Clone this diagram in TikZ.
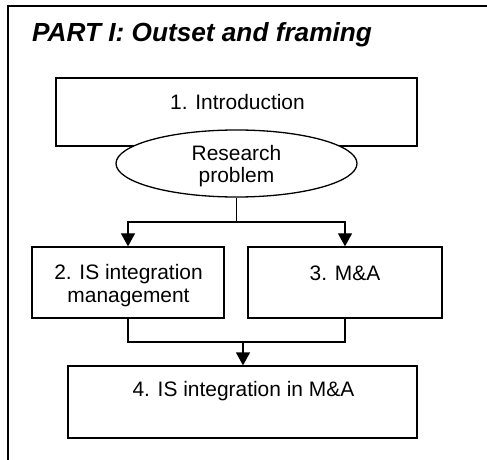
\documentclass[tikz,border=0pt]{standalone}
\usepackage{fontspec}
\setmainfont{Liberation Sans}
\usetikzlibrary{arrows.meta,shapes.geometric}
\begin{document}
\begin{tikzpicture}[x=1bp,y=-1bp,
  boxnode/.style={draw=black,line width=1.3bp,fill=white,rectangle,inner sep=0pt},
  txt/.style={font=\fontsize{21}{22.5}\selectfont,align=center,inner sep=0pt},
  conn/.style={line width=1.3bp,draw=black},
  arr/.style={conn,-{Triangle[width=14bp,length=13bp]}}]
\useasboundingbox (0,0) rectangle (487,460);
% outer frame (top and left)
\draw[line width=1.6bp] (8,460) -- (8,6) -- (490,6);
\node[anchor=base west,inner sep=0pt,font=\fontsize{26.3}{31}\selectfont\bfseries\itshape] (title) at (32,42) {PART I: Outset and framing};
% box 1
\node[boxnode,minimum width=361bp,minimum height=68bp] (box1) at (236.5,112) {};
\node[txt,anchor=base] (t1) at (237.5,110) {1. Introduction};
% ellipse
\node[ellipse,draw=black,line width=1.3bp,fill=white,minimum width=241bp,minimum height=67bp,inner sep=0pt] (ell) at (236.5,163.5) {};
\node[txt] (te) at (236.5,166) {Research\\problem};
% boxes 2 and 3
\node[boxnode,minimum width=192bp,minimum height=71bp] (box2) at (128,282.5) {};
\node[txt] (t2) at (128.5,285.5) {2. IS integration\\management};
\node[boxnode,minimum width=194bp,minimum height=71bp] (box3) at (345,282.5) {};
\node[txt,anchor=base] (t3) at (345,280) {3. M\&A};
% box 4
\node[boxnode,minimum width=349bp,minimum height=72bp] (box4) at (242.5,402) {};
\node[txt,anchor=base] (t4) at (243.4,396.7) {4. IS integration in M\&A};
% connectors
\coordinate (j1) at (236.5,222);
\draw[conn] (ell.south) -- (j1);
\draw[arr] (j1) -| (box2.north);
\draw[arr] (j1) -| (box3.north);
\coordinate (j2) at (243,342);
\draw[conn] (box2.south) |- (j2);
\draw[conn] (box3.south) |- (j2);
\draw[arr] (j2) -- (j2 |- box4.north);
\end{tikzpicture}
\end{document}
